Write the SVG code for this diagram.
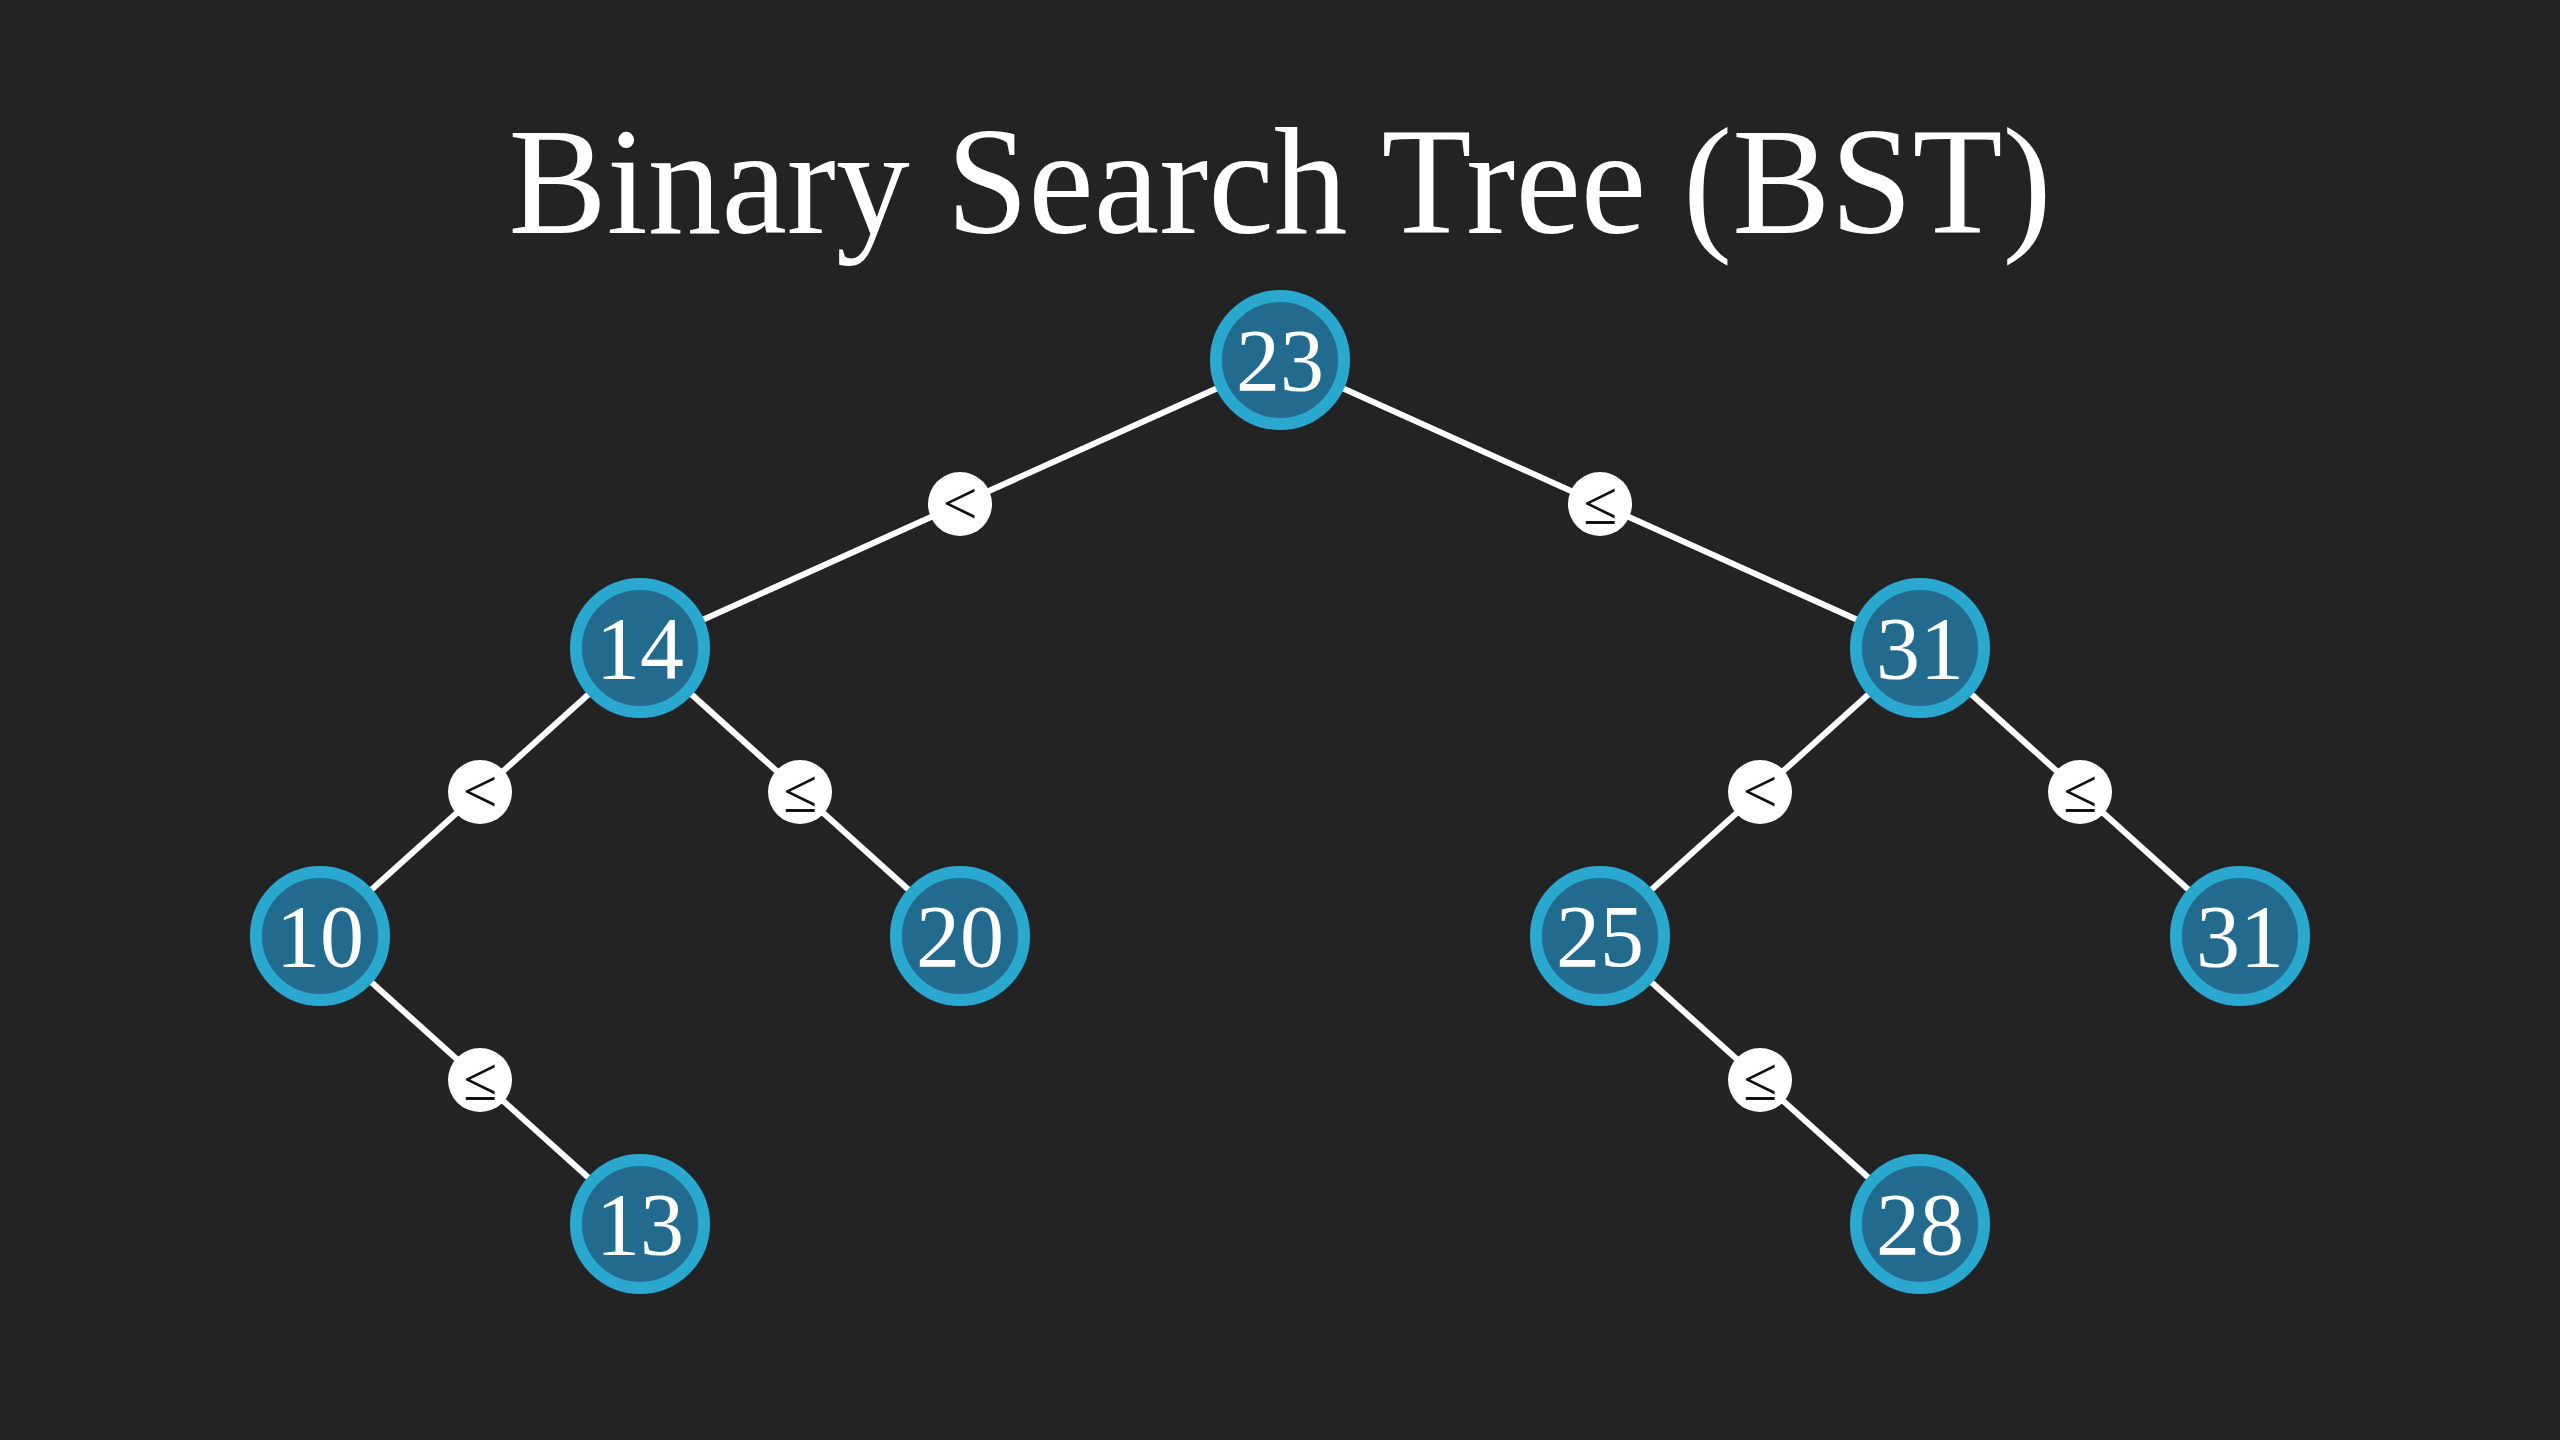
<svg xmlns="http://www.w3.org/2000/svg" width="2560" height="1440" viewBox="0 0 2560 1440">
<style>
.bg{fill:#232323}
.edge{stroke:#ffffff;stroke-width:6;fill:none}
.node circle{fill:#236a8f;stroke:#2aa8cf;stroke-width:12}
.node text{fill:#ffffff;font-family:"Liberation Serif","DejaVu Serif",serif;font-size:88px;text-anchor:middle}
.lbl circle{fill:#ffffff}
.lbl text{fill:#111111;font-family:"Liberation Serif","DejaVu Serif",serif;font-size:62px;text-anchor:middle}
.title{fill:#ffffff;font-family:"Liberation Serif","DejaVu Serif",serif;font-size:152px;text-anchor:middle}
</style>
<rect class="bg" x="0" y="0" width="2560" height="1440"/>
<text class="title" x="1280" y="233" textLength="1543" lengthAdjust="spacingAndGlyphs">Binary Search Tree (BST)</text>
<g id="connectors">
<line class="edge" x1="1280" y1="360" x2="640" y2="648"/>
<line class="edge" x1="1280" y1="360" x2="1920" y2="648"/>
<line class="edge" x1="640" y1="648" x2="320" y2="936"/>
<line class="edge" x1="640" y1="648" x2="960" y2="936"/>
<line class="edge" x1="1920" y1="648" x2="1600" y2="936"/>
<line class="edge" x1="1920" y1="648" x2="2240" y2="936"/>
<line class="edge" x1="320" y1="936" x2="640" y2="1224"/>
<line class="edge" x1="1600" y1="936" x2="1920" y2="1224"/>
<g class="lbl" id="lbl-23-14"><circle cx="960" cy="504" r="32"/><text x="960" y="524">&lt;</text></g>
<g class="lbl" id="lbl-23-31"><circle cx="1600" cy="504" r="32"/><text x="1600" y="524">≤</text></g>
<g class="lbl" id="lbl-14-10"><circle cx="480" cy="792" r="32"/><text x="480" y="812">&lt;</text></g>
<g class="lbl" id="lbl-14-20"><circle cx="800" cy="792" r="32"/><text x="800" y="812">≤</text></g>
<g class="lbl" id="lbl-31-25"><circle cx="1760" cy="792" r="32"/><text x="1760" y="812">&lt;</text></g>
<g class="lbl" id="lbl-31-31"><circle cx="2080" cy="792" r="32"/><text x="2080" y="812">≤</text></g>
<g class="lbl" id="lbl-10-13"><circle cx="480" cy="1080" r="32"/><text x="480" y="1100">≤</text></g>
<g class="lbl" id="lbl-25-28"><circle cx="1760" cy="1080" r="32"/><text x="1760" y="1100">≤</text></g>
</g>
<g class="node" id="n23"><circle cx="1280" cy="360" r="64"/><text x="1280" y="390">23</text></g>
<g class="node" id="n14"><circle cx="640" cy="648" r="64"/><text x="640" y="678">14</text></g>
<g class="node" id="n31a"><circle cx="1920" cy="648" r="64"/><text x="1920" y="678">31</text></g>
<g class="node" id="n10"><circle cx="320" cy="936" r="64"/><text x="320" y="966">10</text></g>
<g class="node" id="n20"><circle cx="960" cy="936" r="64"/><text x="960" y="966">20</text></g>
<g class="node" id="n25"><circle cx="1600" cy="936" r="64"/><text x="1600" y="966">25</text></g>
<g class="node" id="n31b"><circle cx="2240" cy="936" r="64"/><text x="2240" y="966">31</text></g>
<g class="node" id="n13"><circle cx="640" cy="1224" r="64"/><text x="640" y="1254">13</text></g>
<g class="node" id="n28"><circle cx="1920" cy="1224" r="64"/><text x="1920" y="1254">28</text></g>
</svg>
